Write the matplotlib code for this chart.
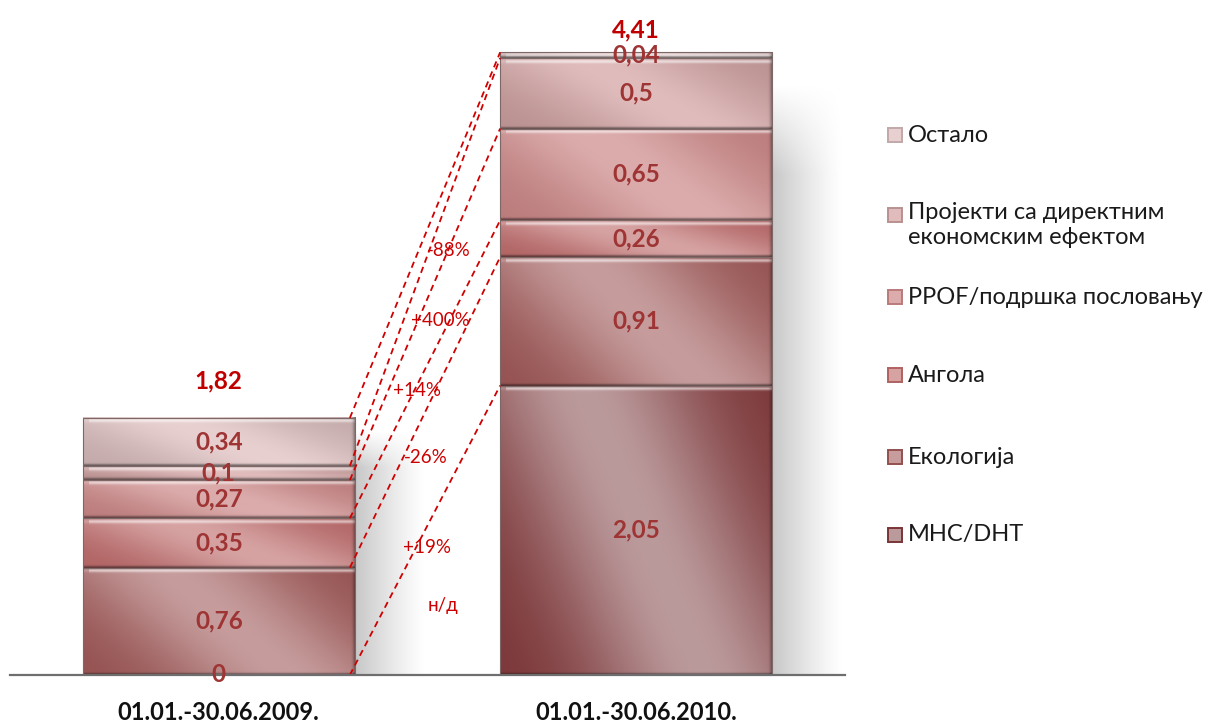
import numpy as np
import matplotlib
matplotlib.use("Agg")
import matplotlib.pyplot as plt
from matplotlib.colors import to_rgb
from matplotlib.patches import Rectangle

# data, bottom -> top of the stack
periods = ["01.01.-30.06.2009.", "01.01.-30.06.2010."]
series_names = ["МНС/DHT", "Екологија", "Ангола", "PPOF/подршка пословању",
                "Пројекти са директним\nекономским ефектом", "Остало"]
mns_dht = [0.00, 2.05]
ekologija = [0.76, 0.91]
angola = [0.35, 0.26]
ppof = [0.27, 0.65]
projekti = [0.10, 0.50]
ostalo = [0.34, 0.04]
changes = ["н/д", "+19%", "-26%", "+14%", "+400%", "-88%"]

# where the change labels sit (between the bars)
change_x = [0.537, 0.499, 0.496, 0.475, 0.532, 0.552]
change_y = [0.495, 0.906, 1.543, 2.017, 2.512, 3.008]

series_light = ["#bb9a9c", "#c69c9c", "#d6a2a2", "#dcacac", "#e0bcbc", "#e8d0d0"]
series_dark = ["#7a3436", "#93504f", "#b06262", "#ba7a7a", "#b99090", "#c2a8a8"]

FONT = ["Lato", "Open Sans", "DejaVu Sans"]
plt.rcParams["font.family"] = FONT

W, H = 1210, 727
fig = plt.figure(figsize=(W / 100, H / 100), dpi=100)
ax = fig.add_axes([10 / W, 52 / H, 835 / W, 675 / H])
ax.set_xlim(-0.5, 1.5)
ax.set_ylim(0, 4.78)
ax.set_autoscale_on(False)


def shade(rect, light, dark):
    x0, y0 = rect.get_x(), rect.get_y()
    w, h = rect.get_width(), rect.get_height()
    if h <= 0:
        return
    p0 = ax.transData.transform((x0, y0))
    p1 = ax.transData.transform((x0 + w, y0 + h))
    wp = max(int(round(p1[0] - p0[0])), 2)
    hp = max(int(round(p1[1] - p0[1])), 2)
    light = np.array(to_rgb(light))
    dark = np.array(to_rgb(dark))
    u = np.linspace(0, 1, wp)[None, :]
    v = np.linspace(0, 1, hp)[:, None]
    d = u - (0.3 + 0.45 * v)
    t = np.exp(-(d / 0.42) ** 2)
    img = dark + (light - dark) * t[..., None]
    rows = np.arange(hp)[:, None].astype(float)
    cols = np.arange(wp)[None, :].astype(float)
    hl = np.exp(-((rows - 3) / 1.7) ** 2) * 0.55 * np.ones_like(cols)
    hl[:, :6] *= 0.3
    img = img + (1 - img) * hl[..., None]
    sh = np.exp(-((hp - 1 - rows) / 1.6) ** 2) * 0.45
    img = img * (1 - sh[..., None])
    rs = np.exp(-((wp - 1 - cols) / 2.5) ** 2) * 0.35
    img = img * (1 - rs[..., None])
    ax.imshow(np.clip(img, 0, 1), extent=(x0, x0 + w, y0, y0 + h),
              aspect="auto", zorder=2, interpolation="bilinear")


all_series = [mns_dht, ekologija, angola, ppof, projekti, ostalo]
x = np.arange(len(periods))
width = 0.652
bottom = np.zeros(len(periods))
containers = []
for i, vals in enumerate(all_series):
    bars = ax.bar(x, vals, width, bottom=bottom, facecolor="none",
                  edgecolor="#7d6868", linewidth=0.8, zorder=3)
    for rect in bars:
        shade(rect, series_light[i], series_dark[i])
    ax.bar_label(bars, labels=[f"{v:g}".replace(".", ",") for v in vals],
                 label_type="center", color="#9e3434", fontsize=17.5,
                 fontweight="bold", zorder=6)
    containers.append(bars)
    bottom = bottom + np.array(vals)

totals = bottom
ax.set_xlim(-0.5, 1.5)
ax.set_ylim(0, 4.78)

# soft shadow to the right of each stack
for j in range(len(periods)):
    r = containers[0][j]
    xr = r.get_x() + r.get_width()
    top = totals[j]
    nx, ny = 80, 120
    a = np.linspace(0.55, 0, nx)[None, :] ** 1.2
    fade = np.clip(np.linspace(0, 1, ny) / 0.15, 0, 1)[:, None]
    rgba = np.zeros((ny, nx, 4))
    rgba[..., :3] = 0.55
    rgba[..., 3] = a * fade
    ax.imshow(rgba, extent=(xr, xr + 0.17, 0, top * 0.95), aspect="auto",
              zorder=1, interpolation="bilinear")

# dashed connectors between the tops of each series
cum1 = np.cumsum([s[0] for s in all_series])
cum2 = np.cumsum([s[1] for s in all_series])
x_from = containers[0][0].get_x() + width - 0.012
x_to = containers[0][1].get_x()
for i in range(len(all_series)):
    ax.plot([x_from, x_to], [cum1[i], cum2[i]], color="#d00000", lw=1.3,
            dashes=(3.5, 2.5), zorder=4)

for cx, cy, txt in zip(change_x, change_y, changes):
    ax.text(cx, cy, txt, ha="center", va="center", color="#cc0000",
            fontsize=13.5, zorder=7)

# totals above the stacks
tot_offset = [0.26, 0.16]
for j in range(len(periods)):
    ax.text(x[j], totals[j] + tot_offset[j], f"{totals[j]:.2f}".replace(".", ","),
            ha="center", va="center", color="#c00000", fontsize=17.5,
            fontweight="bold", zorder=7)

ax.set_xticks(x, periods, fontsize=17, fontweight="bold", color="#111111")
ax.tick_params(axis="x", length=0, pad=19)
ax.set_yticks([])
for s in ["top", "left", "right"]:
    ax.spines[s].set_visible(False)
ax.spines["bottom"].set_color("#6e6e6e")
ax.spines["bottom"].set_linewidth(1.6)
ax.spines["bottom"].set_zorder(5)

# legend, drawn by hand to keep Excel-like spacing
leg_y = [535, 457, 375, 297, 215, 135]
for i, name in enumerate(series_names):
    py = leg_y[i]
    fig.patches.append(Rectangle((888 / W, 1 - (py + 7) / H), 14 / W, 14 / H,
                                 transform=fig.transFigure,
                                 facecolor=series_light[i],
                                 edgecolor=series_dark[i], linewidth=1.4))
    if "\n" in name:
        fig.text(908 / W, 1 - (py - 13) / H, name, ha="left", va="top",
                 fontsize=17, color="#1a1a1a", linespacing=1.25)
    else:
        fig.text(908 / W, 1 - py / H, name, ha="left", va="center",
                 fontsize=17, color="#1a1a1a")

fig.savefig("out.png", dpi=100)
